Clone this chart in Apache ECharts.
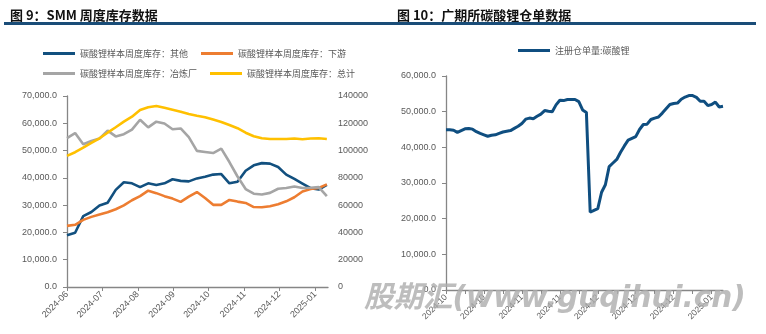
<!DOCTYPE html>
<html>
<head>
<meta charset="utf-8">
<script src="https://cdn.jsdelivr.net/npm/echarts@6/dist/echarts.min.js"></script>
<style>
  html, body { margin: 0; padding: 0; background: #fff; }
  #chart { width: 766px; height: 334px; }
</style>
</head>
<body>
<div id="chart"></div>
<script>
// ---- SMM weekly lithium carbonate inventory (tonnes) ----
const smmDates = [
  '2024-06-06','2024-06-13','2024-06-20','2024-06-27','2024-07-04','2024-07-11','2024-07-18','2024-07-25',
  '2024-08-01','2024-08-08','2024-08-15','2024-08-22','2024-08-29','2024-09-05','2024-09-12','2024-09-19',
  '2024-09-26','2024-10-03','2024-10-10','2024-10-17','2024-10-24','2024-10-31','2024-11-07','2024-11-14',
  '2024-11-21','2024-11-28','2024-12-05','2024-12-12','2024-12-19','2024-12-26','2025-01-02','2025-01-09',
  '2025-01-16'
];
const otherStock = [
  19000, 19900, 26000, 27500, 29900, 30900, 35600, 38400, 38000, 36600, 38000, 37400, 38000, 39500, 38900, 38700,
  39800, 40400, 41200, 41400, 38000, 38600, 42600, 44600, 45400, 45200, 44000, 41200, 39600, 37900, 36200, 35700,
  37400
];
const downstreamStock = [
  22400, 22800, 24600, 25700, 26600, 27400, 28500, 29900, 31800, 33300, 35300, 34400, 33300, 32400, 31200, 33100,
  34800, 32600, 30100, 30100, 31900, 31300, 30800, 29300, 29200, 29600, 30300, 31400, 32900, 35000, 35900, 36300,
  37600
];
const smelterStock = [
  54600, 56400, 52300, 53500, 54400, 57300, 55200, 56000, 57700, 61300, 58500, 60600, 59900, 57800, 58100, 54900,
  49900, 49500, 49100, 50700, 45800, 40500, 35900, 34200, 33900, 34500, 36000, 36300, 36800, 36300, 36400, 36600,
  33300
];
const totalStock = [
  96100, 98800, 102200, 105600, 109000, 113100, 117100, 121200, 124800, 129700, 131700, 132700, 131400, 130000, 128500, 126800,
  125500, 124400, 122700, 121000, 118800, 116400, 113100, 110500, 109000, 108500, 108500, 108500, 108800, 108300, 108800, 109000,
  108500
];
const smmMonthTicks = ['2024-06','2024-07','2024-08','2024-09','2024-10','2024-11','2024-12','2025-01'];

// ---- GFEX lithium carbonate registered warehouse receipts (lots) ----
const gfexDates = [
  '2024-10-08','2024-10-09','2024-10-10','2024-10-11','2024-10-14','2024-10-15','2024-10-16','2024-10-17','2024-10-18',
  '2024-10-21','2024-10-22','2024-10-23','2024-10-24','2024-10-25','2024-10-28','2024-10-29','2024-10-30','2024-10-31',
  '2024-11-01','2024-11-04','2024-11-05','2024-11-06','2024-11-07','2024-11-08','2024-11-11','2024-11-12','2024-11-13',
  '2024-11-14','2024-11-15','2024-11-18','2024-11-19','2024-11-20','2024-11-21','2024-11-22','2024-11-25','2024-11-26',
  '2024-11-27','2024-11-28','2024-11-29','2024-12-02','2024-12-03','2024-12-04','2024-12-05','2024-12-06','2024-12-09',
  '2024-12-10','2024-12-11','2024-12-12','2024-12-13','2024-12-16','2024-12-17','2024-12-18','2024-12-19','2024-12-20',
  '2024-12-23','2024-12-24','2024-12-25','2024-12-26','2024-12-27','2024-12-30','2024-12-31','2025-01-02','2025-01-03',
  '2025-01-06','2025-01-07','2025-01-08','2025-01-09','2025-01-10','2025-01-13','2025-01-14','2025-01-15','2025-01-16',
  '2025-01-17','2025-01-20'
];
const gfexReceipts = [
  44900, 44900, 44800, 44200, 44700, 45200, 45300, 45100, 44400, 43900, 43500, 43100, 43400, 43500, 43900, 44300,
  44500, 44700, 45300, 45900, 46700, 47900, 48200, 48000, 48700, 49300, 50300, 50100, 50000, 51900, 53200, 53100,
  53400, 53400, 53400, 52800, 50500, 49800, 21800, 22300, 22800, 27400, 29500, 34600, 35600, 36600, 38600, 40400,
  42000, 42500, 43000, 45000, 46400, 46500, 47800, 48200, 48500, 49600, 50800, 52000, 52300, 52400, 53500, 54100,
  54500, 54500, 54000, 52900, 52900, 51700, 52000, 52700, 51300, 51500
];

const LABEL = '#595959';
const AXIS = '#868686';
const FONT = "'Noto Sans CJK SC', 'Liberation Sans', sans-serif";
const NUM_FONT = "'Liberation Sans', 'Noto Sans', sans-serif";
const DAY = 86400000;

function withDecimal(v) {
  return v.toLocaleString('en-US', { minimumFractionDigits: 1, maximumFractionDigits: 1 });
}
const toTs = s => { const [y, m, d] = s.split('-').map(Number); return Date.UTC(y, m - 1, d); };
function monthLabel(ts) {
  const d = new Date(ts);
  return d.getUTCFullYear() + '-' + String(d.getUTCMonth() + 1).padStart(2, '0');
}
// month ticks sit on the same day-of-month as the first weekly observation
const firstDay = smmDates[0].slice(8, 10);
const smmTickValues = smmMonthTicks.map(m => toTs(m + '-' + firstDay));

const seriesNames = ['碳酸锂样本周度库存：其他', '碳酸锂样本周度库存：下游', '碳酸锂样本周度库存：冶炼厂', '碳酸锂样本周度库存：总计'];
const seriesColors = ['#12507f', '#ed7d31', '#a5a5a5', '#ffc000'];
const receiptName = '注册仓单量:碳酸锂';

const legendCommon = {
  icon: 'rect', itemWidth: 32, itemHeight: 3,
  textStyle: { color: LABEL, fontSize: 9, fontFamily: FONT },
  selectedMode: false
};

const chart = echarts.init(document.getElementById('chart'), null, { renderer: 'canvas' });

chart.setOption({
  animation: false,
  backgroundColor: '#fff',
  title: [
    { text: '图 9：SMM 周度库存数据', left: 5, top: 4,
      textStyle: { fontSize: 13, fontWeight: 'bold', color: '#111', fontFamily: FONT } },
    { text: '图 10：广期所碳酸锂仓单数据', left: 392, top: 4,
      textStyle: { fontSize: 13, fontWeight: 'bold', color: '#111', fontFamily: FONT } }
  ],
  legend: [
    Object.assign({ left: 38, top: 44, itemGap: 13, data: [seriesNames[0], seriesNames[1]] }, legendCommon),
    Object.assign({ left: 38, top: 64, itemGap: 13, data: [seriesNames[2], seriesNames[3]] }, legendCommon),
    Object.assign({ left: 513, top: 41, data: [receiptName] }, legendCommon)
  ],
  grid: [
    { left: 67, top: 96, width: 261, height: 191 },
    { left: 446, top: 76, width: 277, height: 214 }
  ],
  xAxis: [
    {
      type: 'value', gridIndex: 0,
      min: toTs(smmDates[0]), max: toTs(smmDates[smmDates.length - 1]) + DAY,
      axisLine: { onZero: false, lineStyle: { color: AXIS, width: 1.3 } },
      axisTick: { show: true, length: 4, customValues: smmTickValues, lineStyle: { color: AXIS } },
      axisLabel: {
        customValues: smmTickValues, formatter: monthLabel, rotate: 45, margin: 6,
        fontSize: 9, color: LABEL, fontFamily: NUM_FONT, hideOverlap: false
      },
      splitLine: { show: false }
    },
    {
      type: 'category', gridIndex: 1, data: gfexDates, boundaryGap: false,
      axisLine: { lineStyle: { color: AXIS, width: 1.3 } },
      axisTick: { show: true, length: 4, interval: 4, lineStyle: { color: AXIS } },
      axisLabel: {
        interval: 9, rotate: 45, margin: 6, fontSize: 8.5, color: LABEL, fontFamily: NUM_FONT,
        formatter: v => v.slice(0, 7)
      },
      splitLine: { show: false }
    }
  ],
  yAxis: [
    {
      type: 'value', gridIndex: 0, min: 0, max: 70000, interval: 10000,
      axisLine: { show: true, lineStyle: { color: AXIS, width: 1.3 } },
      axisTick: { show: true, length: 4, lineStyle: { color: AXIS } },
      axisLabel: { formatter: withDecimal, margin: 10, fontSize: 9, color: LABEL, fontFamily: NUM_FONT },
      splitLine: { show: false }
    },
    {
      type: 'value', gridIndex: 0, position: 'right', min: 0, max: 140000, interval: 20000,
      axisLine: { show: false }, axisTick: { show: false },
      axisLabel: { formatter: v => String(v), margin: 10, fontSize: 9, color: LABEL, fontFamily: NUM_FONT },
      splitLine: { show: false }
    },
    {
      type: 'value', gridIndex: 1, min: 0, max: 60000, interval: 10000,
      axisLine: { show: true, lineStyle: { color: AXIS, width: 1.3 } },
      axisTick: { show: true, length: 4, lineStyle: { color: AXIS } },
      axisLabel: { formatter: withDecimal, margin: 10, fontSize: 9, color: LABEL, fontFamily: NUM_FONT },
      splitLine: { show: false }
    }
  ],
  series: [
    { name: seriesNames[0], data: otherStock, color: seriesColors[0] },
    { name: seriesNames[1], data: downstreamStock, color: seriesColors[1] },
    { name: seriesNames[2], data: smelterStock, color: seriesColors[2] },
    { name: seriesNames[3], data: totalStock, color: seriesColors[3], yAxisIndex: 1 }
  ].map(s => ({
    type: 'line', xAxisIndex: 0, yAxisIndex: s.yAxisIndex || 0, name: s.name,
    data: smmDates.map((d, i) => [toTs(d), s.data[i]]),
    showSymbol: false, symbol: 'none',
    lineStyle: { width: 2.6, color: s.color }, itemStyle: { color: s.color }
  })).concat([{
    type: 'line', name: receiptName, xAxisIndex: 1, yAxisIndex: 2,
    data: gfexReceipts, showSymbol: false, symbol: 'none',
    lineStyle: { width: 3, color: '#0f4e80' }, itemStyle: { color: '#0f4e80' }
  }]),
  graphic: [
    { type: 'rect', shape: { x: 4, y: 22, width: 752, height: 3 }, style: { fill: '#1a4d78' } },
    {
      type: 'text', left: 364, top: 285, z: 100,
      style: {
        text: '股期汇(www.guqihui.cn)', fill: 'rgba(172,172,172,0.8)',
        font: "italic bold 29.5px 'DejaVu Sans', 'Noto Sans CJK SC', sans-serif"
      }
    }
  ]
});
</script>
</body>
</html>
